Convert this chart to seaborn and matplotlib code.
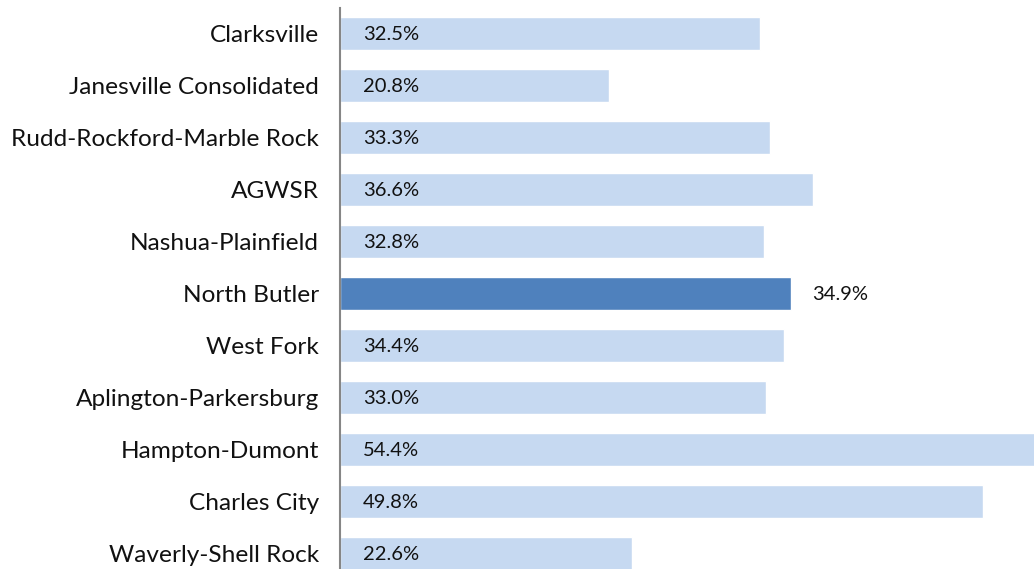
import matplotlib
matplotlib.use("Agg")
import matplotlib.pyplot as plt
import seaborn as sns
import pandas as pd

districts = ["Clarksville", "Janesville Consolidated", "Rudd-Rockford-Marble Rock",
             "AGWSR", "Nashua-Plainfield", "North Butler", "West Fork",
             "Aplington-Parkersburg", "Hampton-Dumont", "Charles City",
             "Waverly-Shell Rock"]
values = [32.5, 20.8, 33.3, 36.6, 32.8, 34.9, 34.4, 33.0, 54.4, 49.8, 22.6]
highlight = "North Butler"

light = "#C6D9F1"
dark = "#4F81BD"

sns.set_theme(style="white")
plt.rcParams["font.family"] = ["Lato", "DejaVu Sans"]

df = pd.DataFrame({"district": districts, "value": values})
palette = {d: (dark if d == highlight else light) for d in districts}

W, H = 1034, 569
fig = plt.figure(figsize=(W / 100, H / 100), dpi=100)
# axes top at 7.5 px, 52 px per row, extends past the bottom edge
ax_h = 11 * 52
ax_top = 7.5
ax = fig.add_axes([340 / W, (H - ax_top - ax_h) / H, (W - 340) / W, ax_h / H])

sns.barplot(data=df, x="value", y="district", hue="district", palette=palette,
            legend=False, width=0.635, ax=ax, saturation=1, orient="h")

ax.set_xlim(0, 53.74)
ax.set_ylim(10.5, -0.5)
ax.set_xlabel("")
ax.set_ylabel("")
ax.set_xticks([])
for s in ["top", "right", "bottom"]:
    ax.spines[s].set_visible(False)
ax.spines["left"].set_color("#868686")
ax.spines["left"].set_linewidth(1.5)
ax.tick_params(axis="y", length=0, pad=15, labelsize=17.6, labelcolor="#111111")

for i, (d, v) in enumerate(zip(districts, values)):
    if d == highlight:
        ax.annotate(f"{v:.1f}%", xy=(v, i), xytext=(21, -1), textcoords="offset pixels",
                    va="center", ha="left", fontsize=14.5, color="#111111")
    else:
        ax.annotate(f"{v:.1f}%", xy=(0, i), xytext=(23, -1), textcoords="offset pixels",
                    va="center", ha="left", fontsize=14.5, color="#111111")

fig.savefig("out.png", dpi=100)
